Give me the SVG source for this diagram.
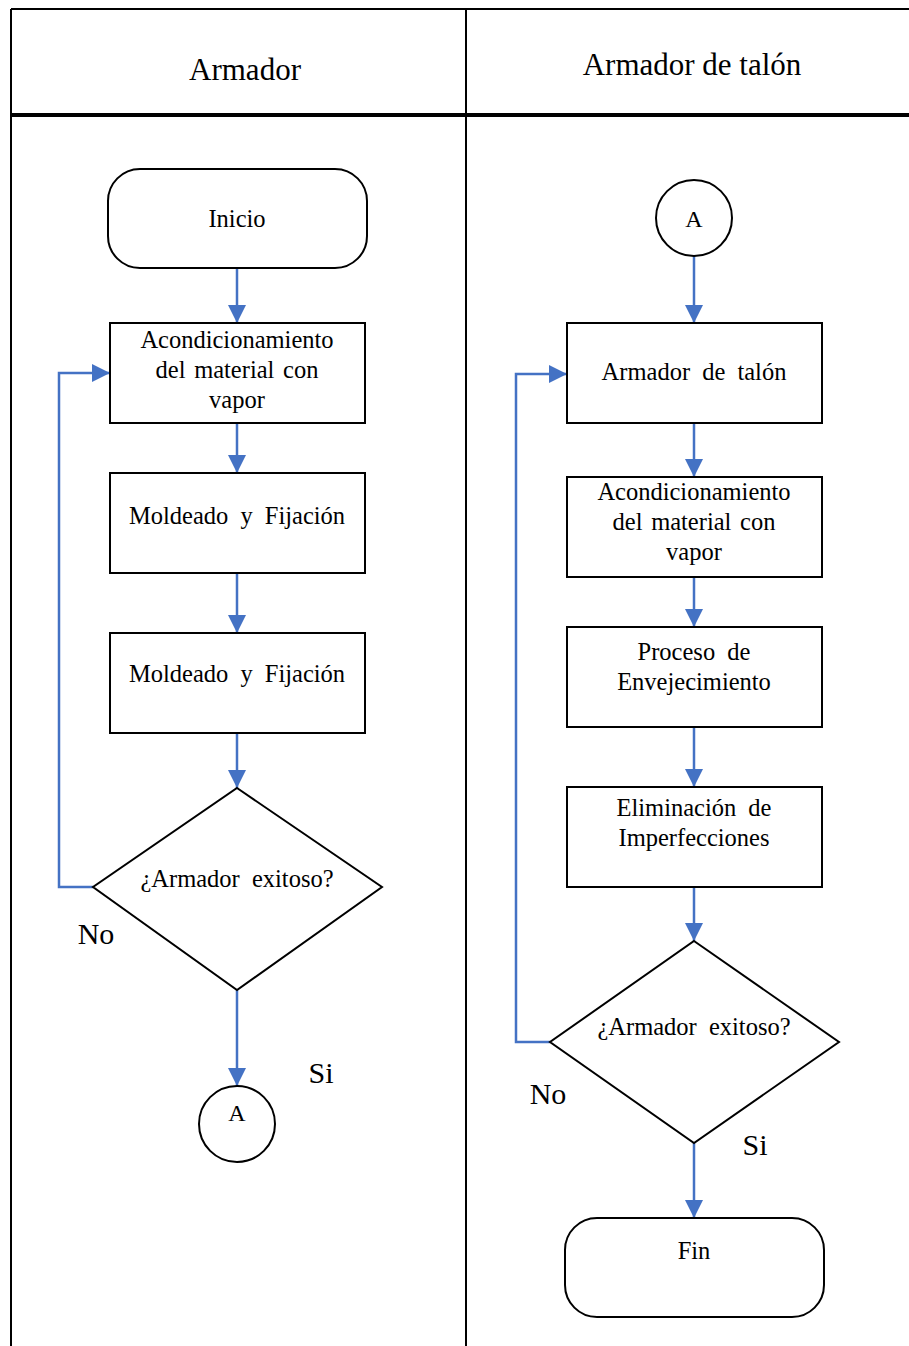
<svg xmlns="http://www.w3.org/2000/svg" width="909" height="1346" viewBox="0 0 909 1346">
<style>
.t{font-family:"Liberation Serif",Tinos,"Times New Roman",Times,"DejaVu Serif",serif;fill:#000;text-anchor:middle}
.b{font-size:24.5px}
.w{word-spacing:6px}
.v{word-spacing:2.5px}
.h{font-size:31px}
.l{font-size:30px}
.a{font-size:24px}
.n{fill:#fff;stroke:#000;stroke-width:2}
.c{fill:none;stroke:#4472C4;stroke-width:2.5}
.g{stroke:#000;stroke-width:2;fill:none}
</style>
<defs>
<marker id="ar" markerUnits="userSpaceOnUse" markerWidth="20" markerHeight="20" refX="18" refY="9" orient="auto">
<path d="M0,0 L18,9 L0,18 Z" fill="#4472C4"/>
</marker>
</defs>
<rect width="909" height="1346" fill="#fff"/>
<g id="table">
<line class="g" x1="11" y1="9" x2="909" y2="9"/>
<line class="g" x1="11" y1="9" x2="11" y2="1346"/>
<line class="g" x1="466" y1="9" x2="466" y2="1346"/>
<line x1="11" y1="115" x2="909" y2="115" stroke="#000" stroke-width="4"/>
<text class="t h" x="245" y="80">Armador</text>
<text class="t h" x="692" y="75">Armador de talón</text>
</g>
<g id="connectors">
<path class="c" d="M237,268 V323" marker-end="url(#ar)"/>
<path class="c" d="M237,423 V473" marker-end="url(#ar)"/>
<path class="c" d="M237,573 V633" marker-end="url(#ar)"/>
<path class="c" d="M237,733 V788" marker-end="url(#ar)"/>
<path class="c" d="M93,887 H59 V373 H110" marker-end="url(#ar)"/>
<path class="c" d="M237,990 V1086" marker-end="url(#ar)"/>
<path class="c" d="M694,256 V323" marker-end="url(#ar)"/>
<path class="c" d="M694,423 V477" marker-end="url(#ar)"/>
<path class="c" d="M694,577 V627" marker-end="url(#ar)"/>
<path class="c" d="M694,727 V787" marker-end="url(#ar)"/>
<path class="c" d="M694,887 V941" marker-end="url(#ar)"/>
<path class="c" d="M550,1042 H516 V374 H567" marker-end="url(#ar)"/>
<path class="c" d="M694,1143 V1218" marker-end="url(#ar)"/>
</g>
<g id="inicio">
<rect class="n" x="108" y="169" width="259" height="99" rx="32"/>
<text class="t b" x="237" y="227">Inicio</text>
</g>
<g id="acond1">
<rect class="n" x="110" y="323" width="255" height="100"/>
<text class="t b" x="237" y="348">Acondicionamiento</text>
<text class="t b v" x="237" y="378">del material con</text>
<text class="t b" x="237" y="408">vapor</text>
</g>
<g id="molde1">
<rect class="n" x="110" y="473" width="255" height="100"/>
<text class="t b w" x="237" y="524">Moldeado y Fijación</text>
</g>
<g id="molde2">
<rect class="n" x="110" y="633" width="255" height="100"/>
<text class="t b w" x="237" y="682">Moldeado y Fijación</text>
</g>
<g id="decision1">
<polygon class="n" points="237,788 382,887 237,990 93,887"/>
<text class="t b w" x="237" y="887">¿Armador exitoso?</text>
</g>
<text class="t l" x="96" y="944">No</text>
<text class="t l" x="321" y="1083">Si</text>
<g id="connA1">
<circle class="n" cx="237" cy="1124" r="38"/>
<text class="t a" x="237" y="1121">A</text>
</g>
<g id="connA2">
<circle class="n" cx="694" cy="218" r="38"/>
<text class="t a" x="694" y="227">A</text>
</g>
<g id="armTalon">
<rect class="n" x="567" y="323" width="255" height="100"/>
<text class="t b w" x="694" y="380">Armador de talón</text>
</g>
<g id="acond2">
<rect class="n" x="567" y="477" width="255" height="100"/>
<text class="t b" x="694" y="500">Acondicionamiento</text>
<text class="t b v" x="694" y="530">del material con</text>
<text class="t b" x="694" y="560">vapor</text>
</g>
<g id="envejec">
<rect class="n" x="567" y="627" width="255" height="100"/>
<text class="t b w" x="694" y="660">Proceso de</text>
<text class="t b" x="694" y="690">Envejecimiento</text>
</g>
<g id="elimin">
<rect class="n" x="567" y="787" width="255" height="100"/>
<text class="t b w" x="694" y="816">Eliminación de</text>
<text class="t b" x="694" y="846">Imperfecciones</text>
</g>
<g id="decision2">
<polygon class="n" points="694,941 839,1042 694,1143 550,1042"/>
<text class="t b w" x="694" y="1035">¿Armador exitoso?</text>
</g>
<text class="t l" x="548" y="1104">No</text>
<text class="t l" x="755" y="1155">Si</text>
<g id="fin">
<rect class="n" x="565" y="1218" width="259" height="99" rx="32"/>
<text class="t b" x="694" y="1259">Fin</text>
</g>
</svg>
